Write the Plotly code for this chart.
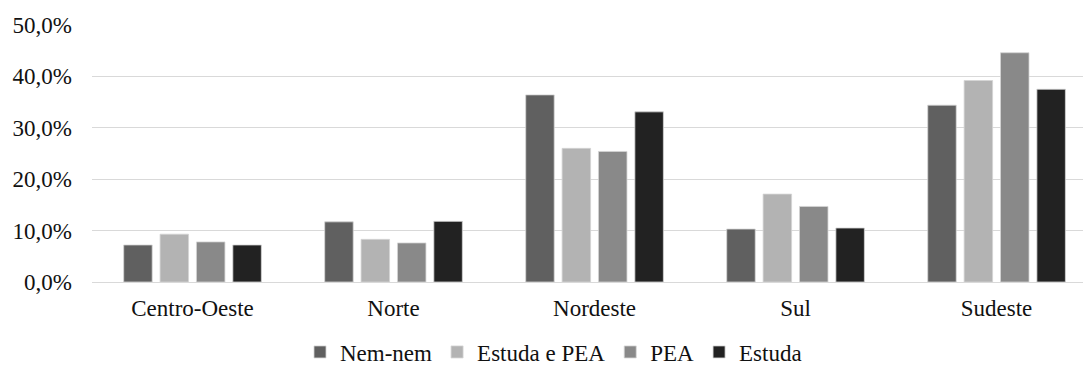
import plotly.graph_objects as go

# Share of young people by region and activity group
regions = ["Centro-Oeste", "Norte", "Nordeste", "Sul", "Sudeste"]
nem_nem = [0.072, 0.117, 0.364, 0.103, 0.344]
estuda_pea = [0.093, 0.083, 0.260, 0.171, 0.392]
pea = [0.078, 0.076, 0.254, 0.147, 0.446]
estuda = [0.072, 0.118, 0.331, 0.105, 0.375]

series = [
    ("Nem-nem", nem_nem, "#606060"),
    ("Estuda e PEA", estuda_pea, "#b3b3b3"),
    ("PEA", pea, "#898989"),
    ("Estuda", estuda, "#222222"),
]

font_family = "Times New Roman, Liberation Serif, serif"

fig = go.Figure()
for name, vals, color in series:
    fig.add_trace(go.Bar(
        x=regions, y=vals, name=name,
        marker=dict(color=color, line=dict(color="#d4d4d4", width=0.8)),
    ))

fig.update_layout(
    width=1083, height=369,
    margin=dict(l=92, r=0, t=25, b=87, autoexpand=False),
    paper_bgcolor="white", plot_bgcolor="white",
    separators=",.",
    barmode="group", bargap=0.276, bargroupgap=0.217,
    font=dict(family=font_family, size=23, color="#111111"),
    showlegend=True,
    legend=dict(
        orientation="h", x=(300 - 92) / 991, xanchor="left",
        y=(282 - 352) / 257, yanchor="middle",
        font=dict(family=font_family, size=23, color="#111111"),
        bgcolor="rgba(0,0,0,0)", traceorder="normal",
    ),
    xaxis=dict(
        range=[-0.5, 4.43], showgrid=False, showline=False,
        ticks="", ticklabelstandoff=10,
        tickfont=dict(family=font_family, size=23, color="#111111"),
    ),
    yaxis=dict(
        range=[0, 0.5], tickvals=[0, 0.1, 0.2, 0.3, 0.4, 0.5],
        tickformat=".1%", showgrid=True, gridcolor="#d9d9d9", gridwidth=1.4,
        zeroline=True, zerolinecolor="#d9d9d9", zerolinewidth=1.4,
        showline=False, ticks="", ticklabelstandoff=19,
        tickfont=dict(family=font_family, size=23, color="#111111"),
    ),
)

fig.write_html("out.html")
